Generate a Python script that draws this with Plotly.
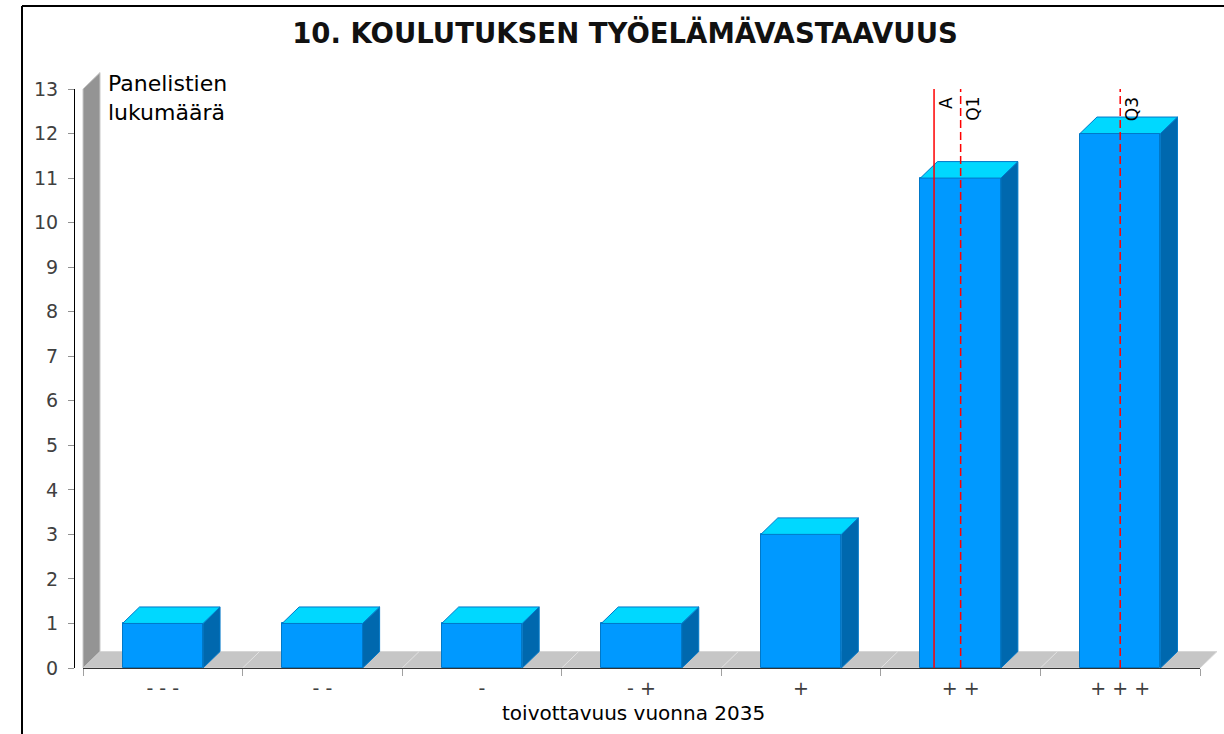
import plotly.graph_objects as go

# ---- data -------------------------------------------------------------
categories = ["- - -", "- -", "-", "- +", "+", "+ +", "+ + +"]
counts = [1, 1, 1, 1, 3, 11, 12]
y_ticks = list(range(0, 14))

# statistics markers: mean (A) and quartiles (Q1, Q3) on the category scale
positions = list(range(len(categories)))
mean_pos = sum(p * c for p, c in zip(positions, counts)) / sum(counts)
stat_labels = ["A", "Q1", "Q3"]
stat_positions = [mean_pos, 5, 6]
stat_dashes = ["solid", "8px,4px", "8px,4px"]

title_text = "10. KOULUTUKSEN TYÖELÄMÄVASTAAVUUS"
y_title = "Panelistien<br>lukumäärä"
x_title = "toivottavuus vuonna 2035"

# ---- geometry ---------------------------------------------------------
W, H = 1224, 734
ML, MR, MT, MB = 75, 6, 72, 66
plot_w = W - ML - MR
plot_h = H - MT - MB
PX_X = 1117 / 7          # pixels per category
PX_Y = 579 / 13          # pixels per count unit
x_lo = -0.5 - 8 / PX_X
x_hi = x_lo + plot_w / PX_X
y_hi = plot_h / PX_Y
DX = 17 / PX_X           # 3D depth offset (x units)
DY = 16.5 / PX_Y         # 3D depth offset (y units)
BAR_W = 80.5 / PX_X
n = len(categories)

FONT = "DejaVu Sans"
FRONT = "#0099FF"
TOP = "#00D8FF"
SIDE = "#0068AE"
EDGE = "#0078C8"

fig = go.Figure()

# front faces of the bars
fig.add_trace(go.Bar(
    x=positions, y=counts, width=BAR_W,
    marker=dict(color=FRONT, line=dict(color=EDGE, width=1)),
    hoverinfo="skip", showlegend=False,
))

# side and top faces
for p, v in zip(positions, counts):
    xl, xr = p - BAR_W / 2, p + BAR_W / 2
    fig.add_trace(go.Scatter(
        x=[xr, xr, xr + DX, xr + DX, xr], y=[0, v, v + DY, DY, 0],
        mode="lines", fill="toself", fillcolor=SIDE,
        line=dict(color=EDGE, width=1), hoverinfo="skip", showlegend=False,
    ))
    fig.add_trace(go.Scatter(
        x=[xl, xr, xr + DX, xl + DX, xl], y=[v, v, v + DY, v + DY, v],
        mode="lines", fill="toself", fillcolor=TOP,
        line=dict(color=EDGE, width=1), hoverinfo="skip", showlegend=False,
    ))

# mean / quartile reference lines
for lab, pos, dash in zip(stat_labels, stat_positions, stat_dashes):
    fig.add_trace(go.Scatter(
        x=[pos, pos], y=[0, y_ticks[-1]], mode="lines",
        line=dict(color="#FF0000", width=1.5, dash=dash),
        hoverinfo="skip", showlegend=False,
    ))

shapes = []
# floor
shapes.append(dict(
    type="path", xref="x", yref="y", layer="below",
    path=f"M {-0.5},0 L {n - 0.5},0 L {n - 0.5 + DX},{DY} L {-0.5 + DX},{DY} Z",
    fillcolor="#C6C6C6", line=dict(color="#D6D6D6", width=1),
))
# floor grid diagonals at category boundaries
for k in range(1, n):
    b = k - 0.5
    shapes.append(dict(type="line", xref="x", yref="y", layer="below",
                       x0=b, y0=0, x1=b + DX, y1=DY,
                       line=dict(color="#E2E2E2", width=1)))
# back wall
shapes.append(dict(
    type="path", xref="x", yref="y", layer="below",
    path=f"M {-0.5},0 L {-0.5},{y_ticks[-1]} L {-0.5 + DX},{y_ticks[-1] + DY} L {-0.5 + DX},{DY} Z",
    fillcolor="#949494", line=dict(color="#C8C8C8", width=1),
))
# category axis line
shapes.append(dict(type="line", xref="x", yref="paper", layer="below",
                   x0=-0.5, x1=n - 0.5, y0=0, y1=0,
                   line=dict(color="#333333", width=2)))
# value axis line
shapes.append(dict(type="line", xref="paper", yref="y",
                   x0=-0.5 / plot_w, x1=-0.5 / plot_w, y0=0, y1=y_ticks[-1],
                   line=dict(color="#000000", width=1)))


def px(X):
    return (X - ML) / plot_w


def py(Y):
    return (H - MB - Y) / plot_h


# frame
shapes.append(dict(type="line", xref="paper", yref="paper",
                   x0=px(22), x1=px(W + 10), y0=py(6), y1=py(6),
                   line=dict(color="#000000", width=2)))
shapes.append(dict(type="line", xref="paper", yref="paper",
                   x0=px(22), x1=px(22), y0=py(6), y1=py(H + 10),
                   line=dict(color="#000000", width=2)))

annotations = []
annotations.append(dict(
    text=y_title, xref="paper", yref="paper", x=px(106), y=py(69),
    xanchor="left", yanchor="top", align="left", showarrow=False,
    font=dict(family=FONT, size=22, color="#000000"),
))
annotations.append(dict(
    text=x_title, xref="paper", yref="paper", x=px(633), y=py(713),
    xanchor="center", yanchor="middle", showarrow=False,
    font=dict(family=FONT, size=20, color="#000000"),
))
for lab, pos in zip(stat_labels, stat_positions):
    annotations.append(dict(
        text=lab, xref="x", yref="y", x=pos, y=y_ticks[-1],
        xanchor="left", yanchor="top", yshift=-6, xshift=0,
        textangle=-90, showarrow=False,
        font=dict(family=FONT, size=17, color="#000000"),
    ))

fig.update_layout(
    width=W, height=H,
    margin=dict(l=ML, r=MR, t=MT, b=MB, pad=0),
    paper_bgcolor="#FFFFFF", plot_bgcolor="#FFFFFF",
    title=dict(text=title_text, x=625 / W, y=1 - 33 / H,
               xref="container", yref="container",
               xanchor="center", yanchor="middle",
               font=dict(family=FONT, size=27.5, color="#111111", weight="bold")),
    bargap=0,
    xaxis=dict(
        range=[x_lo, x_hi], tickmode="array", tickvals=positions,
        ticktext=categories, ticks="", showgrid=False, zeroline=False,
        showline=False, tickfont=dict(family=FONT, size=19, color="#404040"),
        ticklabelstandoff=7,
        minor=dict(tickmode="array", tickvals=[k - 0.5 for k in range(n + 1)],
                   ticks="outside", ticklen=7, tickcolor="#A0A0A0", tickwidth=1,
                   showgrid=False),
    ),
    yaxis=dict(
        range=[0, y_hi], tickmode="array", tickvals=y_ticks,
        ticks="outside", ticklen=6, tickcolor="#909090", tickwidth=1,
        showgrid=False, zeroline=False, showline=False,
        tickfont=dict(family=FONT, size=19, color="#404040"),
        ticklabelstandoff=6,
    ),
    shapes=shapes, annotations=annotations,
    showlegend=False,
)

fig.write_html("out.html")
